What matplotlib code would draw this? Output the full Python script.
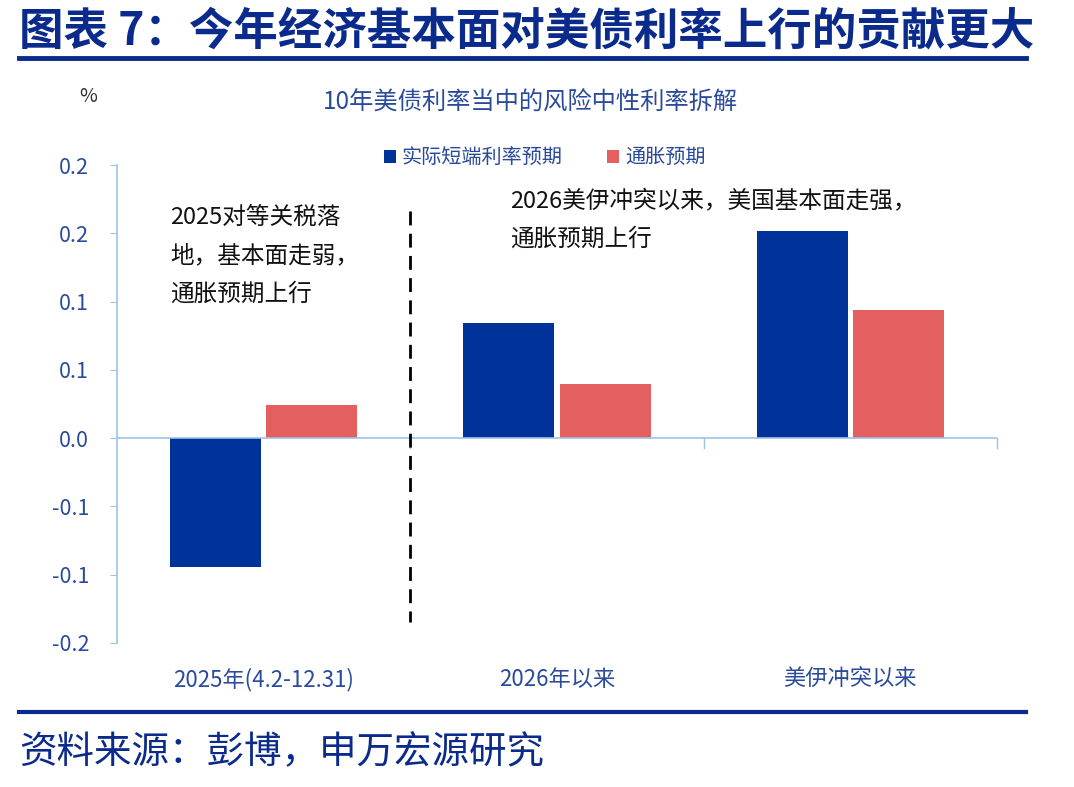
import matplotlib.pyplot as plt
import numpy as np

# categories and series (percentage points)
categories = ['2025年(4.2-12.31)', '2026年以来', '美伊冲突以来']
real_short_rate = [-0.094, 0.084, 0.152]
inflation_exp = [0.024, 0.040, 0.094]
series_names = ['实际短端利率预期', '通胀预期']

y_ticks = [-0.15, -0.10, -0.05, 0.0, 0.05, 0.10, 0.15, 0.20]
y_labels = ['-0.2', '-0.1', '-0.1', '0.0', '0.1', '0.1', '0.2', '0.2']

plt.rcParams['font.family'] = ['Noto Sans CJK SC', 'DejaVu Sans']

navy = '#003399'
red = '#E35F60'
text_blue = '#2A4B9B'
axis_blue = '#9DC3E6'

fig = plt.figure(figsize=(10.74, 7.87), dpi=100)
ax = fig.add_axes([0.1089, 0.1830, 0.8194, 0.6073])

x = np.arange(len(categories))
width = 0.31
ax.bar(x - 0.164, real_short_rate, width, color=navy, label=series_names[0], zorder=3)
ax.bar(x + 0.164, inflation_exp, width, color=red, label=series_names[1], zorder=3)

ax.set_xlim(-0.5, 2.5)
ax.set_ylim(-0.15, 0.20)
ax.set_yticks(y_ticks)
ax.set_yticklabels(y_labels)
ax.set_xticks(x)
ax.set_xticklabels(categories)
ax.tick_params(axis='y', colors=axis_blue, labelcolor=text_blue, labelsize=15.5,
               length=5, direction='out', pad=15)
ax.tick_params(axis='x', length=0, labelcolor=text_blue, labelsize=16, pad=18)

for s in ['top', 'right', 'bottom']:
    ax.spines[s].set_visible(False)
ax.spines['left'].set_color(axis_blue)
ax.spines['left'].set_linewidth(1.2)

# zero line with category separators
ax.axhline(0, color=axis_blue, lw=1.2, zorder=4)
for b in [0.5, 1.5, 2.5]:
    ax.plot([b, b], [0, -0.007], color=axis_blue, lw=1.0, zorder=4, clip_on=False)

# dashed divider
ax.plot([0.5, 0.5], [0.166, -0.135], color='black', lw=2, ls=(0, (5, 3)), zorder=5)

ax.text(-0.32, 0.170, '2025对等关税落\n地，基本面走弱，\n通胀预期上行', fontsize=17,
        va='top', ha='left', linespacing=1.85, color='#111111')
ax.text(0.84, 0.182, '2026美伊冲突以来，美国基本面走强，\n通胀预期上行', fontsize=17,
        va='top', ha='left', linespacing=1.85, color='#111111')

leg = ax.legend(loc='lower center', bbox_to_anchor=(0.486, 0.955), ncol=2, frameon=False,
                fontsize=14.5, handlelength=0.6, handleheight=0.6, handletextpad=0.3,
                columnspacing=2.2)
for t in leg.get_texts():
    t.set_color(text_blue)

fig.text(0.494, 0.870, '10年美债利率当中的风险中性利率拆解', fontsize=17.5, color=text_blue,
         ha='center', va='center')
fig.text(0.082, 0.877, '%', fontsize=14, color='#333333', ha='center', va='center')

# header and footer
fig.text(0.018, 0.960, '图表 7：今年经济基本面对美债利率上行的贡献更大', fontsize=32,
         fontweight='bold', color='#0A2A8C', ha='left', va='center')
fig.add_artist(plt.Line2D([0.018, 0.955], [0.926, 0.926], color='#0A2A8C', lw=3.5))
fig.add_artist(plt.Line2D([0.018, 0.955], [0.095, 0.095], color='#0A2A8C', lw=3))
fig.text(0.018, 0.044, '资料来源：彭博，申万宏源研究', fontsize=27, color='#0A2A8C',
         ha='left', va='center')

fig.savefig('out.png', dpi=100)
